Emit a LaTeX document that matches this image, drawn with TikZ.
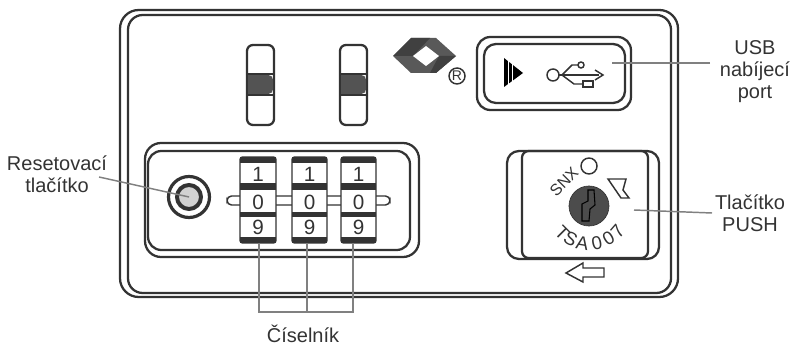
\documentclass[tikz,border=0pt]{standalone}
\usepackage{fontspec}
\setmainfont{Liberation Sans}
\definecolor{ink}{gray}{0.2}
\definecolor{leader}{gray}{0.5}
\begin{document}
\begin{tikzpicture}[x=0.75pt,y=-0.75pt,
        outline/.style = {draw=ink,line width=1.7pt},
        thin outline/.style = {draw=ink,line width=1.1pt},
        leaderline/.style = {draw=leader,line width=1.1pt},
        label/.style = {text=ink,align=center,inner sep=0pt,font=\fontsize{15}{16.5}\selectfont},
        digit/.style = {text=ink,inner sep=0pt,font=\fontsize{15.5}{15.5}\selectfont}]
    \useasboundingbox (0,0) rectangle (792,345);

    % housing
    \draw[outline,rounded corners=14pt] (120,10) rectangle (678,297);
    \draw[outline,rounded corners=11pt] (128,15) rectangle (671,293);

    % sliders
    \foreach \xa in {247,340} {
        \draw[outline,rounded corners=4.5pt] (\xa,45) rectangle (\xa+27,125);
        \fill[gray!65!black] (\xa+1,75) [rounded corners=3.5pt] -- (\xa+26,75) -- (\xa+26,94) [sharp corners] -- (\xa+1,94) -- cycle;
        \draw[outline] (\xa,74) -- (\xa+27,74);
        \draw[outline] (\xa,95) -- (\xa+27,95);
    }

    % logo
    \fill[gray!70!black] (393,56) -- (411,38) -- (436,38) -- (456,56) -- (436,73) -- (411,73) -- cycle;
    \fill[gray!50!black] (393,56) -- (411,38) -- (430,38) -- (413,56) -- cycle;
    \fill[gray!50!black] (456,56) -- (436,73) -- (430,73) -- (439,56) -- cycle;
    \fill[white] (413,56) -- (426,46) -- (439,56) -- (426,66) -- cycle;
    \draw[thin outline] (457,76) circle (8);
    \node[text=ink,inner sep=0pt,font=\fontsize{10.5}{10.5}\selectfont] (regmark) at (457,76) {R};

    % usb port
    \draw[outline,rounded corners=10pt] (477,37) rectangle (631,110);
    \draw[outline,rounded corners=9pt] (484,44) rectangle (625,103);
    \fill[black] (504,58) -- (523,73) -- (504,87) -- cycle;
    \draw[white,line width=0.6pt] (508,58) -- (508,87);
    \draw[white,line width=0.6pt] (512,58) -- (512,87);
    \draw[thin outline] (553,75) circle (6);
    \draw[thin outline] (559,75) -- (599,75);
    \draw[thin outline] (595,70) -- (603,75) -- (595,80);
    \draw[thin outline] (562,75) -- (572,65) -- (578,65);
    \draw[thin outline] (581,65) circle (3);
    \draw[thin outline] (562,75) -- (574,84) -- (583,84);
    \draw[thin outline] (583,81) rectangle (593,87);

    % code lock panel
    \draw[outline,rounded corners=12pt] (145,143) rectangle (419,257);
    \draw[outline,rounded corners=10pt] (148,151) rectangle (410,250);

    % reset button
    \draw[draw=ink,line width=2.4pt] (189,197) circle (20.5);
    \draw[draw=ink,line width=3pt,fill=gray!35] (189,197) circle (12);

    % code wheels
    \draw[thin outline,rounded corners=3.4pt,fill=white] (227,196) rectangle (390,205);
    \foreach \xa/\wheelw [count=\i] in {240/36,292/35,341/35} {
        \draw[thin outline,fill=white,rounded corners=2pt] (\xa,157) rectangle (\xa+\wheelw,243);
        \fill[ink] (\xa,157) rectangle (\xa+\wheelw,163);
        \fill[ink] (\xa,183) rectangle (\xa+\wheelw,190);
        \fill[ink] (\xa,212) rectangle (\xa+\wheelw,217);
        \fill[ink] (\xa,237) rectangle (\xa+\wheelw,243);
        \node[digit] (one\i) at (\xa+\wheelw/2,174) {1};
        \node[digit] (zero\i) at (\xa+\wheelw/2,202) {0};
        \node[digit] (nine\i) at (\xa+\wheelw/2,227) {9};
    }

    % push button
    \draw[outline,rounded corners=9pt] (507,151) rectangle (659,259);
    \draw[outline,rounded corners=5pt] (522,151) rectangle (648,258);
    \draw[draw=ink,line width=0.5pt,fill=gray!60!black] (589,206) circle (20);
    \draw[draw=black,line width=0.8pt] (594,190) -- (595,205) -- (590,209) -- (589,221) -- (582,221) -- (582,204) -- (588,201) -- (588,190) -- cycle;
    \draw[thin outline] (589,166) circle (8);
    \draw[thin outline] (608,179) -- (626,179) -- (623,190) -- (629,198) -- (621,198) -- cycle;
    \node[text=ink,rotate=45,inner sep=0pt,font=\fontsize{12}{12}\selectfont] (snx) at (564,181.5) {SNX};
    \foreach \ch/\rot [count=\i] in {T/-45,S/-29,A/-10,0/12,0/31,7/49} {
        \path (589,206) ++(90-\rot:38) node[text=ink,rotate=\rot,inner sep=0pt,font=\fontsize{14}{14}\selectfont] (tsa\i) {\ch};
    }
    \draw[thin outline] (566,273) -- (583,263) -- (583,268) -- (604,268) -- (604,277) -- (583,277) -- (583,282) -- cycle;

    % labels
    \node[label] (resetlabel) at (57,174) {Resetovací\\tlačítko};
    \node[label] (usblabel) at (755,72) {USB\\nabíjecí\\port};
    \node[label] (pushlabel) at (750,213) {Tlačítko\\PUSH};
    \node[label] (dialabel) at (303,334) {Číselník};

    % leaders
    \coordinate (resetfrom) at (99,177);
    \coordinate (resetto) at (189,197);
    \coordinate (usbfrom) at (710,63);
    \coordinate (usbto) at (612,63);
    \coordinate (pushfrom) at (712,213);
    \coordinate (pushto) at (634,210);
    \coordinate (diala) at (259,243);
    \coordinate (dialb) at (307,243);
    \coordinate (dialc) at (353,243);
    \coordinate (dialjoin) at (307,312);
    \draw[leaderline] (resetfrom) -- (resetto);
    \draw[leaderline] (usbfrom) -- (usbto);
    \draw[leaderline] (pushfrom) -- (pushto);
    \draw[leaderline] (diala) |- (dialjoin);
    \draw[leaderline] (dialc) |- (dialjoin);
    \draw[leaderline] (dialb) -- (dialjoin);
\end{tikzpicture}
\end{document}
